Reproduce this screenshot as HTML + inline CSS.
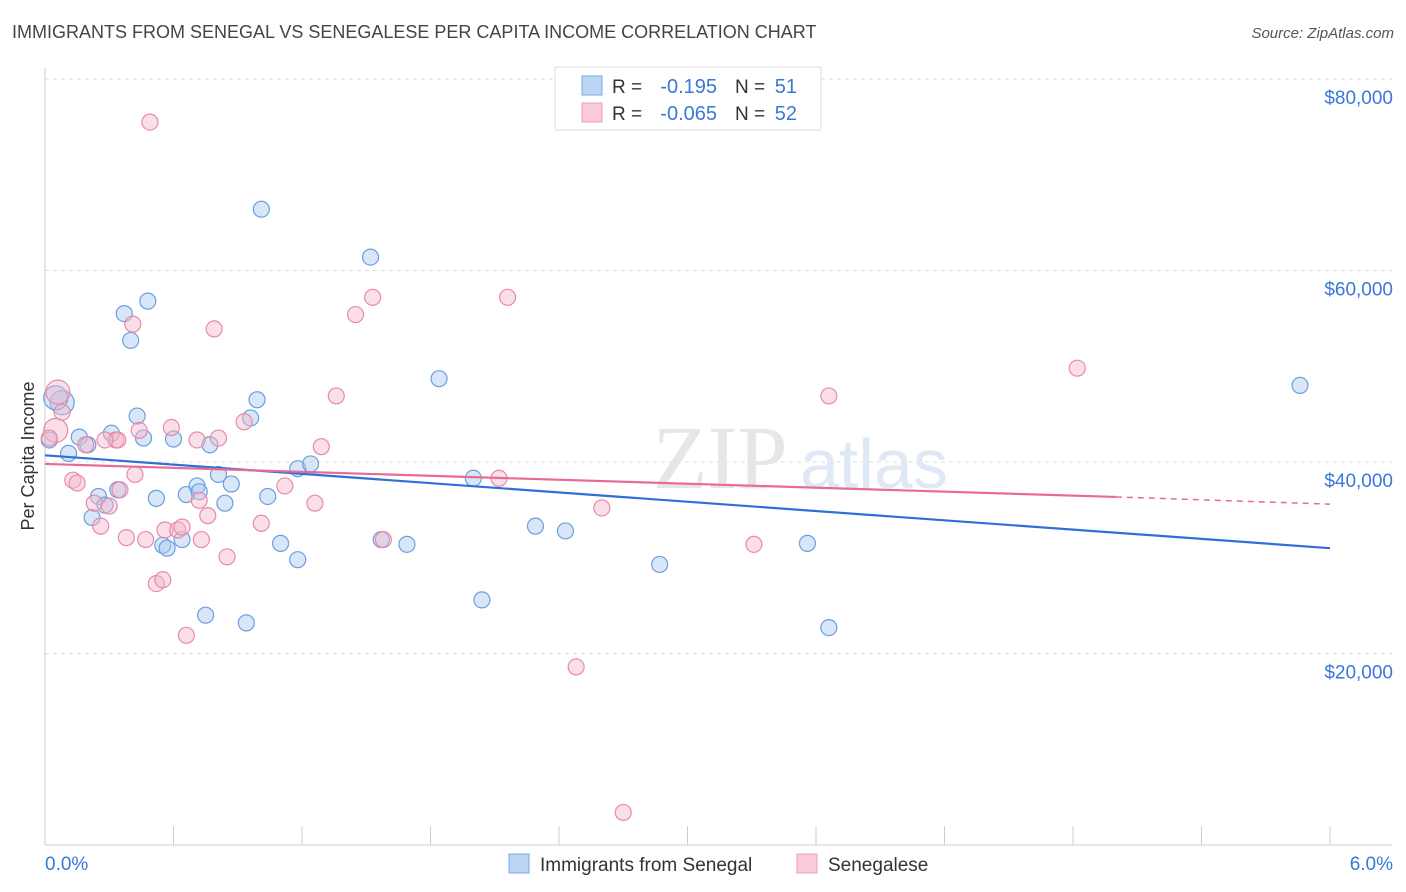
<!DOCTYPE html>
<html><head><meta charset="utf-8"><style>
body{margin:0;background:#fff;font-family:"Liberation Sans",sans-serif;}
#wrap{position:relative;width:1406px;height:892px;overflow:hidden;}
.t{position:absolute;white-space:nowrap;}
</style></head><body>
<div id="wrap">
<div class="t" style="left:12px;top:22px;font-size:18px;color:#444;">IMMIGRANTS FROM SENEGAL VS SENEGALESE PER CAPITA INCOME CORRELATION CHART</div>
<div class="t" style="right:12px;top:25px;font-size:15px;color:#555;font-style:italic;">Source: ZipAtlas.com</div>
<svg id="svg" width="1406" height="892" style="position:absolute;left:0;top:0"></svg>
</div>
<script>
const blueX=[.08,.05,.11,.16,.20,.25,.22,.28,.31,.34,.37,.40,.43,.46,.48,.52,.55,.57,.60,.64,.66,.71,.72,.75,.77,.81,.84,.87,.94,.96,.99,1.01,1.04,1.10,1.18,1.18,1.24,1.52,1.57,1.69,1.84,2.00,2.04,2.29,2.43,2.87,3.56,3.66,5.86,.02];
const blueY=[46.2,46.7,40.9,42.6,41.8,36.4,34.2,35.5,43.0,37.1,55.5,52.7,44.8,42.5,56.8,36.2,31.3,31.0,42.4,31.9,36.6,37.5,36.9,24.0,41.8,38.7,35.7,37.7,23.2,44.6,46.5,66.4,36.4,31.5,29.8,39.3,39.8,61.4,31.9,31.4,48.7,38.3,25.6,33.3,32.8,29.3,31.5,22.7,48.0,42.3];
const pinkX=[.06,.05,.02,.08,.13,.15,.19,.23,.26,.30,.33,.35,.38,.41,.42,.44,.47,.49,.52,.55,.56,.59,.62,.64,.66,.71,.72,.73,.76,.79,.81,.85,.93,1.01,1.12,1.26,1.29,1.36,1.45,1.53,1.58,2.12,2.16,2.48,2.60,2.70,3.31,3.66,4.82,.34,.28];
const pinkY=[47.3,43.3,42.5,45.2,38.1,37.8,41.8,35.7,33.3,35.4,42.3,37.1,32.1,54.4,38.7,43.3,31.9,75.5,27.3,27.7,32.9,43.6,32.9,33.2,21.9,42.3,36.0,31.9,34.4,53.9,42.5,30.1,44.2,33.6,37.5,35.7,41.6,46.9,55.4,57.2,31.9,38.3,57.2,18.6,35.2,3.4,31.4,46.9,49.8,42.3,42.3];
const blueTrend=[40.7,31.0];
const pinkTrend=[39.8,36.35,35.6];
const yTicks=[20,40,60,80];
const yTickLabels=["$20,000","$40,000","$60,000","$80,000"];
const xTicks=[0,.6,1.2,1.8,2.4,3.0,3.6,4.2,4.8,5.4,6.0];

const svg=document.getElementById('svg');const NS='http://www.w3.org/2000/svg';
const X=v=>45+v/6*1285, Y=v=>845-v*9.575;
function el(t,a,p){const e=document.createElementNS(NS,t);for(const k in a)e.setAttribute(k,a[k]);(p||svg).appendChild(e);return e;}
yTicks.forEach((v,i)=>{
 const g=el('line',{x1:45,x2:1392,y1:Y(v),y2:Y(v),stroke:'#ddd','stroke-dasharray':'4,4'});
 
 const t=el('text',{x:1393,y:Y(v)+25,'text-anchor':'end','font-size':19,fill:'#3a78d8'});t.textContent=yTickLabels[i];
 
});
let a=el('line',{x1:45,x2:45,y1:68,y2:845,stroke:'#ccc'});
a=el('line',{x1:45,x2:1392,y1:845,y2:845,stroke:'#ccc'});
xTicks.forEach(v=>{const t=el('line',{x1:X(v),x2:X(v),y1:826,y2:845,stroke:'#ccc'});});
let w=el('text',{x:720,y:488,'text-anchor':'middle','font-size':90,fill:'#e6e6e6','font-family':'Liberation Serif'});w.textContent='ZIP';

w=el('text',{x:800,y:488,'font-size':70,fill:'#dfe8f5'});w.textContent='atlas';
function pts(xs,ys,fill,stroke,name){xs.forEach((x,i)=>{const big=(i<2&&xs===blueX)||(i<2&&xs===pinkX);
 const c=el('circle',{cx:X(x),cy:Y(ys[i]),r:big?12:8,fill:fill,'fill-opacity':.45,stroke:stroke,'stroke-width':1.2});
 });}
pts(blueX,blueY,'#a8c8f0','#6a9fe0','senegal-point');
pts(pinkX,pinkY,'#f5b8cc','#e88aaa','senegalese-point');
let l=el('line',{x1:X(0),y1:Y(blueTrend[0]),x2:X(6),y2:Y(blueTrend[1]),stroke:'#2f6fd6','stroke-width':2.2});

l=el('line',{x1:X(0),y1:Y(pinkTrend[0]),x2:X(5),y2:Y(pinkTrend[1]),stroke:'#e86a98','stroke-width':2.2});

l=el('line',{x1:X(5),y1:Y(pinkTrend[1]),x2:X(6),y2:Y(pinkTrend[2]),stroke:'#e86a98','stroke-width':1.5,'stroke-dasharray':'6,5'});

let t=el('text',{x:45,y:870,'font-size':19,fill:'#3a78d8'});t.textContent='0.0%';
t=el('text',{x:1393,y:870,'text-anchor':'end','font-size':19,fill:'#3a78d8'});t.textContent='6.0%';
t=el('text',{x:34,y:456,'text-anchor':'middle','font-size':18,fill:'#333',transform:'rotate(-90 34 456)'});t.textContent='Per Capita Income';
// top legend
let g=el('g',{});
el('rect',{x:555,y:67,width:266,height:63,fill:'#fff',stroke:'#ddd'},g);
el('rect',{x:582,y:76,width:20,height:19,fill:'#bcd5f5',stroke:'#7aa8e6'},g);
el('rect',{x:582,y:103,width:20,height:19,fill:'#fbcadb',stroke:'#ee9fba'},g);
[[93,'-0.195','51'],[120,'-0.065','52']].forEach(r=>{
 const a=el('text',{x:612,y:r[0],'font-size':19,fill:'#333'},g);a.textContent='R = ';
 const b=el('text',{x:717,y:r[0],'font-size':20,fill:'#3a78d8','text-anchor':'end'},g);b.textContent=r[1];
 const c=el('text',{x:735,y:r[0],'font-size':19,fill:'#333'},g);c.textContent='N = ';
 const d=el('text',{x:797,y:r[0],'font-size':20,fill:'#3a78d8','text-anchor':'end'},g);d.textContent=r[2];});
// bottom legend
g=el('g',{});
el('rect',{x:509,y:854,width:20,height:19,fill:'#bcd5f5',stroke:'#7aa8e6'},g);
let q=el('text',{x:540,y:871,'font-size':19,fill:'#333'},g);q.textContent='Immigrants from Senegal';
el('rect',{x:797,y:854,width:20,height:19,fill:'#fbcadb',stroke:'#ee9fba'},g);
q=el('text',{x:828,y:871,'font-size':19,fill:'#333'},g);q.textContent='Senegalese';
</script>
</body></html>
